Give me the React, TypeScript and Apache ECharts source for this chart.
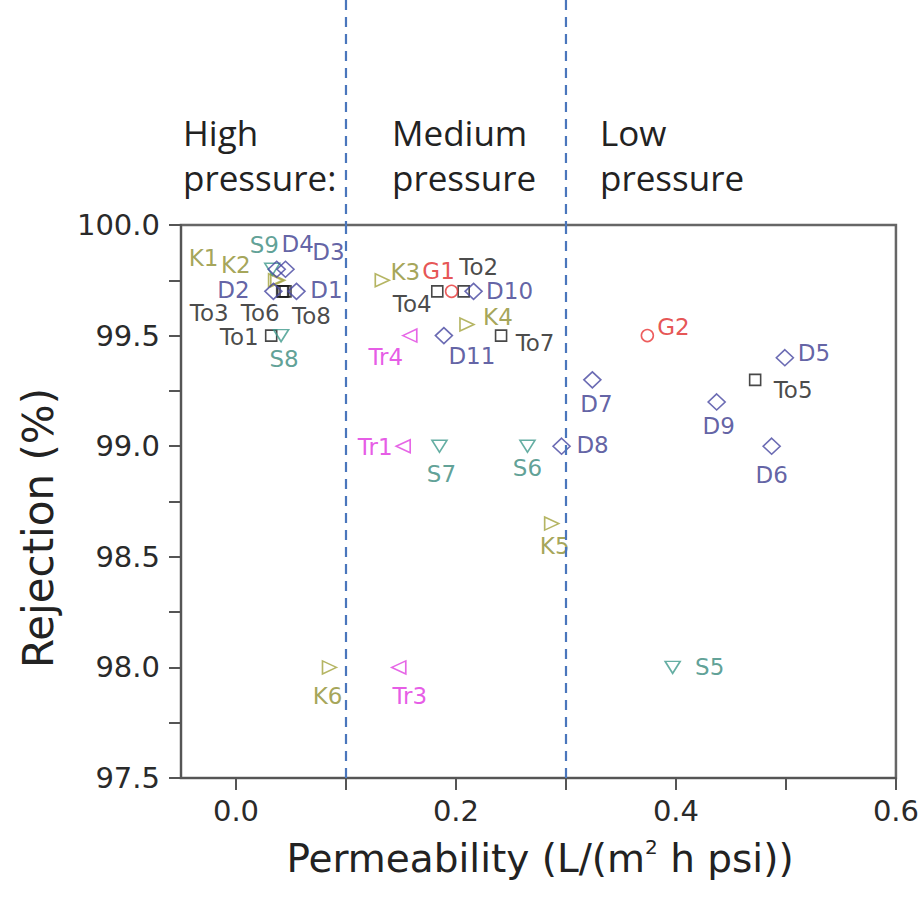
import React, { useEffect, useRef } from 'react';
import * as echarts from 'echarts';

// ---- data ----
const dNames = ['D1', 'D2', 'D3', 'D4', 'D5', 'D6', 'D7', 'D8', 'D9', 'D10', 'D11'];
const dX = [0.055, 0.034, 0.045, 0.037, 0.499, 0.487, 0.324, 0.296, 0.437, 0.216, 0.189];
const dY = [99.7, 99.7, 99.8, 99.8, 99.4, 99.0, 99.3, 99.0, 99.2, 99.7, 99.5];

const toNames = ['To1', 'To2', 'To3', 'To4', 'To5', 'To6', 'To7', 'To8'];
const toX = [0.032, 0.207, 0.042, 0.183, 0.472, 0.043, 0.241, 0.045];
const toY = [99.5, 99.7, 99.7, 99.7, 99.3, 99.7, 99.5, 99.7];

const kNames = ['K1', 'K2', 'K3', 'K4', 'K5', 'K6'];
const kX = [0.036, 0.038, 0.133, 0.21, 0.287, 0.085];
const kY = [99.75, 99.75, 99.75, 99.55, 98.65, 98.0];

const sNames = ['S5', 'S6', 'S7', 'S8', 'S9'];
const sX = [0.397, 0.265, 0.185, 0.041, 0.033];
const sY = [98.0, 99.0, 99.0, 99.5, 99.8];

const trNames = ['Tr1', 'Tr3', 'Tr4'];
const trX = [0.152, 0.148, 0.158];
const trY = [99.0, 98.0, 99.5];

const gNames = ['G1', 'G2'];
const gX = [0.196, 0.374];
const gY = [99.7, 99.5];

const xTickValues = [0, 0.1, 0.2, 0.3, 0.4, 0.5, 0.6];
const xLabelValues = [0, 0.2, 0.4, 0.6];
const yLabelValues = [97.5, 98.0, 98.5, 99.0, 99.5, 100.0];
const boundaryValues = [0.1, 0.3];

// label placement (offset of each label from its marker, px)
const labelOffsets: Record<string, [number, number]> = {
  S9: [-8, -24], D4: [21, -25], D3: [43, -17], K1: [-72, -22], K2: [-42, -15],
  D2: [-40, -1], D1: [30, -1], To3: [-73, 22], To6: [-23, 22], To8: [26, 25],
  To1: [-32, 1], S8: [3, 23], K3: [23, -8], G1: [-13, -20], To2: [15, -24],
  To4: [-25, 13], D10: [36, 0], K4: [31, -8], Tr4: [-24, 21], D11: [28, 20],
  To7: [34, 7], G2: [26, -9], D5: [29, -5], To5: [38, 10], D7: [4, 24],
  D9: [2, 24], D8: [31, -1], D6: [0, 29], Tr1: [-28, 1], S7: [2, 28],
  S6: [0, 22], K5: [3, 22], K6: [-2, 29], Tr3: [11, 29], S5: [37, 0],
};

const LABEL_FONT = 'DejaVu Sans';

function makeSeries(
  name: string, names: string[], xs: number[], ys: number[],
  symbol: string, rotate: number, size: number | number[], color: string, labelColor: string,
) {
  return {
    type: 'scatter',
    name,
    symbol,
    symbolRotate: rotate,
    symbolSize: size,
    itemStyle: { color: 'rgba(255,255,255,0)', borderColor: color, borderWidth: 1.6 },
    label: {
      show: true,
      position: 'inside',
      formatter: '{b}',
      color: labelColor,
      fontSize: 23,
      fontFamily: LABEL_FONT,
    },
    emphasis: { disabled: true },
    data: names.map((n, i) => ({
      name: n,
      value: [xs[i], ys[i]],
      label: { offset: labelOffsets[n] || [0, 0] },
    })),
  };
}

export default function App() {
  const ref = useRef<HTMLDivElement>(null);
  useEffect(() => {
    const chart = echarts.init(ref.current!, null, { renderer: 'svg' });
    const axisColor = '#555';
    const dashColor = '#4A76BC';
    chart.setOption({
      animation: false,
      backgroundColor: '#fff',
      grid: {
        left: 181, right: 24, top: 225, bottom: 129,
        show: true, borderColor: '#666', borderWidth: 2.5, backgroundColor: 'transparent',
      },
      xAxis: {
        type: 'value', min: -0.05, max: 0.6,
        axisLine: { show: true, onZero: false, lineStyle: { color: axisColor, width: 2 } },
        axisTick: { show: true, customValues: xTickValues, length: 12, lineStyle: { color: axisColor, width: 2 } },
        axisLabel: {
          customValues: xLabelValues, formatter: (v: number) => v.toFixed(1),
          fontSize: 29, color: '#2a2a2a', fontFamily: LABEL_FONT, margin: 18,
        },
        splitLine: { show: false },
      },
      yAxis: {
        type: 'value', min: 97.5, max: 100, interval: 0.25,
        axisLine: { show: true, onZero: false, lineStyle: { color: axisColor, width: 2 } },
        axisTick: { show: true, length: 12, lineStyle: { color: axisColor, width: 2 } },
        axisLabel: {
          customValues: yLabelValues, formatter: (v: number) => v.toFixed(1),
          fontSize: 29, color: '#2a2a2a', fontFamily: LABEL_FONT, margin: 21,
        },
        splitLine: { show: false },
      },
      series: [
        {
          type: 'scatter', data: [], silent: true,
          markLine: {
            silent: true, symbol: 'none', label: { show: false },
            lineStyle: { color: dashColor, type: [10, 7], width: 2.2 },
            data: boundaryValues.map((v) => ({ xAxis: v })),
          },
        },
        makeSeries('To', toNames, toX, toY, 'rect', 0, [11, 11], '#1a1a1a', '#1a1a1a'),
        makeSeries('K', kNames, kX, kY, 'triangle', -90, [13, 14], '#A3A33C', '#8E8E2E'),
        makeSeries('S', sNames, sX, sY, 'triangle', 180, [15, 12], '#3E9A8C', '#37897C'),
        makeSeries('Tr', trNames, trX, trY, 'triangle', 90, [13, 14], '#E040E0', '#E030E0'),
        makeSeries('G', gNames, gX, gY, 'circle', 0, 12, '#E83535', '#E02828'),
        makeSeries('D', dNames, dX, dY, 'diamond', 0, [17, 16], '#4646A0', '#3A3A8E'),
      ],
    });

    const yTop = chart.convertToPixel({ yAxisIndex: 0 }, 100) as number;
    const graphics: any[] = boundaryValues.map((v, i) => {
      const px = chart.convertToPixel({ xAxisIndex: 0 }, v) as number;
      return {
        id: 'ext' + i, type: 'line', silent: true,
        shape: { x1: px, y1: 0, x2: px, y2: yTop },
        style: { stroke: dashColor, lineWidth: 2.2, lineDash: [10, 7] },
      };
    });
    const headFont = '35px "Open Sans"';
    const heads = [
      ['High', 'pressure:', 183],
      ['Medium', 'pressure', 392],
      ['Low', 'pressure', 600],
    ];
    heads.forEach(([a, b, x], i) => {
      graphics.push({
        id: 'h1' + i, type: 'text', x: x as number, y: 132,
        style: { text: a as string, font: headFont, fill: '#222', align: 'left', verticalAlign: 'middle' },
      });
      graphics.push({
        id: 'h2' + i, type: 'text', x: x as number, y: 177,
        style: { text: b as string, font: headFont, fill: '#222', align: 'left', verticalAlign: 'middle' },
      });
    });
    graphics.push({
      id: 'xtitle', type: 'text', x: 540, y: 858,
      style: {
        text: '{a|Permeability (L/(m}{s|2}{a| h psi))}',
        align: 'center', verticalAlign: 'middle',
        rich: {
          a: { fontSize: 39, fontFamily: LABEL_FONT, fill: '#222', color: '#222' },
          s: { fontSize: 20, fontFamily: LABEL_FONT, fill: '#222', color: '#222', verticalAlign: 'top', padding: [0, 0, 22, 0] },
        },
      },
    });
    graphics.push({
      id: 'ytitle', type: 'text', x: 38, y: 528, rotation: Math.PI / 2,
      style: {
        text: 'Rejection (%)', font: '42px "DejaVu Sans"', fill: '#222',
        align: 'center', verticalAlign: 'middle',
      },
    });
    chart.setOption({ graphic: { elements: graphics } });

    return () => chart.dispose();
  }, []);
  return <div ref={ref} style={{ position: 'fixed', left: 0, top: 0, width: 922, height: 907 }} />;
}
